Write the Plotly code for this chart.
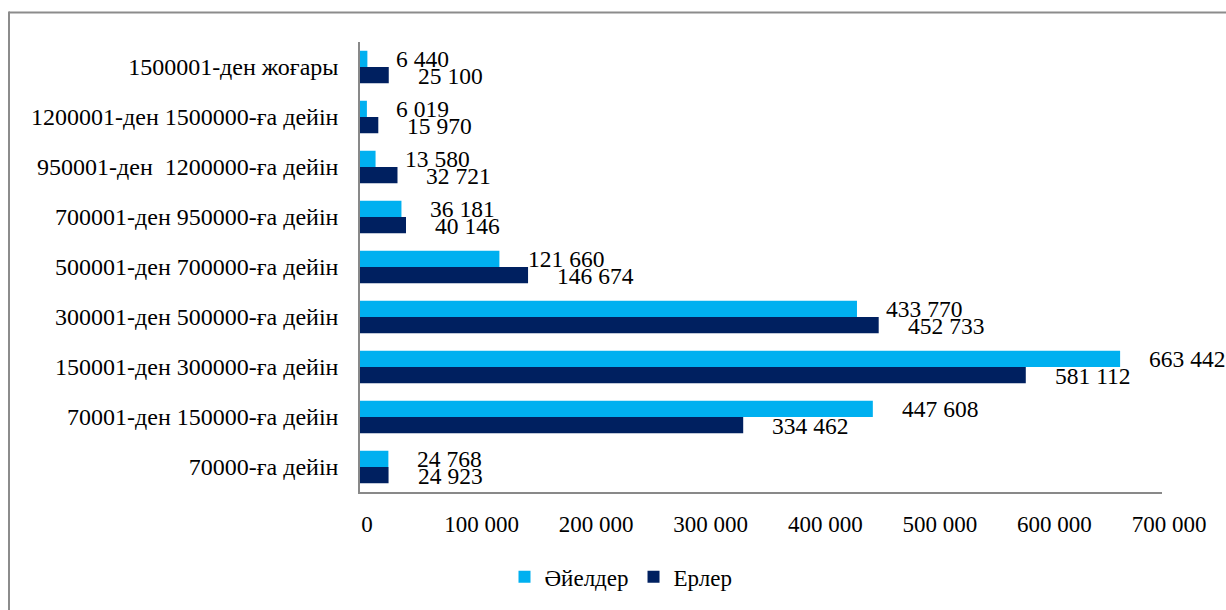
import plotly.graph_objects as go

# Income brackets, bottom to top
categories = [
    "70000-ға дейін",
    "70001-ден 150000-ға дейін",
    "150001-ден 300000-ға дейін",
    "300001-ден 500000-ға дейін",
    "500001-ден 700000-ға дейін",
    "700001-ден 950000-ға дейін",
    "950001-ден\u00a0 1200000-ға дейін",
    "1200001-ден 1500000-ға дейін",
    "1500001-ден жоғары",
]
women = [24768, 447608, 663442, 433770, 121660, 36181, 13580, 6019, 6440]
men = [24923, 334462, 581112, 452733, 146674, 40146, 32721, 15970, 25100]
x_ticks = [0, 100000, 200000, 300000, 400000, 500000, 600000, 700000]

WOMEN_COLOR = "#00B0F0"
MEN_COLOR = "#002060"
AXIS_GRAY = "#898989"
FONT = "Liberation Serif, Times New Roman, serif"


def fmt(v):
    return f"{v:,}".replace(",", " ")


fig = go.Figure()
# Men first so they sit at the lower half of each group
fig.add_trace(go.Bar(
    y=categories, x=men, orientation="h", name="Ерлер",
    marker=dict(color=MEN_COLOR, line=dict(width=0)), legendrank=2,
))
fig.add_trace(go.Bar(
    y=categories, x=women, orientation="h", name="Әйелдер",
    marker=dict(color=WOMEN_COLOR, line=dict(width=0)), legendrank=1,
))

annotations = []
for cat, w, m in zip(categories, women, men):
    annotations.append(dict(
        x=w, y=cat, xref="x", yref="y", text=fmt(w), showarrow=False,
        xanchor="left", yanchor="middle", xshift=27, yshift=8,
        font=dict(family=FONT, size=23.5, color="#000000"),
    ))
    annotations.append(dict(
        x=m, y=cat, xref="x", yref="y", text=fmt(m), showarrow=False,
        xanchor="left", yanchor="middle", xshift=27, yshift=-9,
        font=dict(family=FONT, size=23.5, color="#000000"),
    ))

# Outer frame (top and left edges)
L, T, W_PLOT, H_PLOT = 360, 42, 802, 457
def px_x(px):
    return (px - L) / W_PLOT
def px_y(py):
    return (T + H_PLOT - py) / H_PLOT

shapes = [
    dict(type="line", xref="paper", yref="paper",
         x0=px_x(9), y0=px_y(12), x1=px_x(1240), y1=px_y(12),
         line=dict(color="#8C8C8C", width=2)),
    dict(type="line", xref="paper", yref="paper",
         x0=px_x(9), y0=px_y(11), x1=px_x(9), y1=px_y(620),
         line=dict(color="#8C8C8C", width=2)),
]

fig.update_layout(
    width=1226, height=610,
    margin=dict(l=L, r=1226 - L - W_PLOT, t=T, b=610 - T - H_PLOT, pad=0),
    paper_bgcolor="white", plot_bgcolor="white",
    barmode="group", bargap=0.35, bargroupgap=0,
    separators=". ",
    font=dict(family=FONT, size=23, color="#000000"),
    showlegend=True,
    legend=dict(
        orientation="h", x=px_x(621), y=px_y(585),
        xanchor="center", yanchor="middle",
        font=dict(family=FONT, size=23, color="#000000"),
        itemwidth=30, traceorder="normal",
    ),
    xaxis=dict(
        range=[0, 700000], tickvals=x_ticks, tickformat=",d",
        showgrid=False, zeroline=False, showline=True,
        linecolor=AXIS_GRAY, linewidth=1.5, ticks="",
        ticklabelstandoff=11, ticklabelshift=7,
        tickfont=dict(family=FONT, size=23, color="#000000"),
    ),
    yaxis=dict(
        type="category", categoryorder="array", categoryarray=categories,
        showgrid=False, zeroline=False, showline=True,
        linecolor=AXIS_GRAY, linewidth=1.5, ticks="",
        ticklabelstandoff=15,
        tickfont=dict(family=FONT, size=24, color="#000000"),
    ),
    annotations=annotations,
    shapes=shapes,
)

fig.write_html("out.html")
